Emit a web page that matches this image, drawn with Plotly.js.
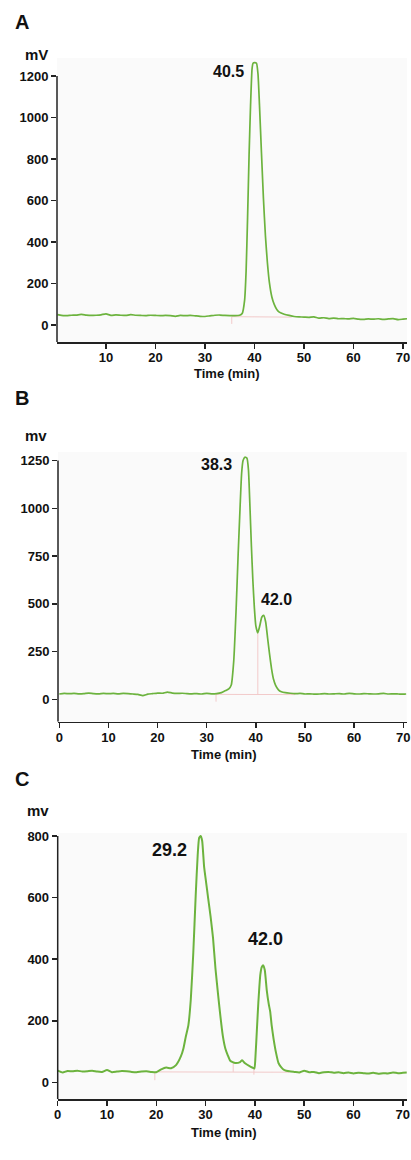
<!DOCTYPE html>
<html>
<head>
<meta charset="utf-8">
<script src="https://cdn.plot.ly/plotly-3.0.1.min.js"></script>
<style>html,body{margin:0;padding:0;background:#fff}#chart{width:411px;height:1160px}</style>
</head>
<body>
<div id="chart"></div>
<script>
// ---- Panel A ----
const tA = [0.2,1,2,3,4,5,6,7,8,9,10,11,12,13,14,15,16,17,18,19,20,21,22,23,24,25,26,27,28,29,30,31,32,33,34,35,36,37,37.5,38,38.3,38.6,38.9,39.2,39.5,39.7,40.0,40.4,40.7,41.0,41.4,41.8,42.2,42.6,43.0,43.5,44.0,44.5,45,46,47,48,49,50,51,52,53,54,55,56,57,58,59,60,61,62,63,64,65,66,67,68,69,70,70.8];
const vA = [50,46,45,47,48,51,48,46,47,49,54,46,49,47,46,50,47,46,45,47,46,45,46,45,42,46,45,46,44,42,41,44,47,48,46,45,45,47,55,120,260,520,820,1060,1235,1262,1265,1262,1210,1060,830,610,430,300,205,135,98,75,62,52,46,41,39,38,37,39,33,35,31,33,30,31,29,32,28,27,29,28,30,27,29,31,26,28,30];
const baseAx = [35.4,35.4,47.5];
const baseAy = [5,40,38];

// ---- Panel B ----
const tB = [0,1,2,3,4,5,6,7,8,9,10,11,12,13,14,15,16,17,18,19,20,21,22,23,24,25,26,27,28,29,30,31,32,33,34,34.5,35,35.5,36,36.4,36.8,37.1,37.4,37.8,38.2,38.5,38.8,39.1,39.4,39.7,40.0,40.4,40.8,41.2,41.6,42.0,42.4,42.8,43.2,43.6,44.0,44.6,45.2,46,47,48,49,50,51,52,53,54,55,56,57,58,59,60,61,62,63,64,65,66,67,68,69,70,70.6];
const vB = [28,31,30,31,29,30,33,30,29,31,30,31,29,31,30,28,26,20,27,30,33,32,38,33,31,32,30,29,30,28,31,29,30,35,48,55,75,200,480,760,1010,1180,1250,1268,1262,1200,1010,800,620,480,385,348,385,430,440,405,320,235,160,105,75,50,40,35,32,30,31,28,29,27,28,30,28,29,30,28,31,29,28,30,29,28,29,31,28,29,28,27,28];
const baseBx = [31.9,31.9,48];
const baseBy = [-12,26,25];
const dropBx = [40.4,40.4];
const dropBy = [26,346];

// ---- Panel C ----
const tC = [0,1,2,3,4,5,6,7,8,9,10,11,12,13,14,15,16,17,18,19,20,21,22,23,24,25,25.5,26,26.5,27,27.5,28,28.4,28.7,29.0,29.3,29.7,30.1,30.5,31,31.5,32,32.5,33,33.5,34,34.5,35,36,37,37.4,38,39,39.5,39.9,40.1,40.4,40.7,41.1,41.4,41.7,42.0,42.4,42.8,43.1,43.4,43.8,44.3,44.8,45.4,46,47,48,49,50,51,52,53,54,55,56,57,58,59,60,61,62,63,64,65,66,67,68,69,70,70.8];
const vC = [38,32,37,36,38,35,36,38,35,34,40,33,35,37,36,34,33,35,36,34,33,42,48,46,56,85,110,150,185,270,420,610,740,795,800,785,700,650,600,540,470,370,290,215,150,110,88,70,63,66,72,62,52,48,45,80,170,260,350,375,380,365,300,255,230,185,140,95,62,48,40,36,34,32,38,33,34,30,33,34,31,33,30,32,29,31,30,29,31,28,30,29,32,30,31,32];
const baseCx = [19.7,19.7,47];
const baseCy = [7,34,33];
const tickCx1 = [35.6,35.6];
const tickCy1 = [34,62];
const tickCx2 = [39.8,39.8];
const tickCy2 = [25,45];

const ticksA = [10,20,30,40,50,60,70];
const ticksBC = [0,10,20,30,40,50,60,70];
const yTicksA = [0,200,400,600,800,1000,1200];
const yTicksB = [0,250,500,750,1000,1250];
const yTicksC = [0,200,400,600,800];

const W = 411, H = 1160;
const GREEN = '#6cb33e';
const PINK = '#f2caca';
const FONT = 'Liberation Sans, Arial, sans-serif';

function line(x, y, xa, ya, color, width) {
  return {x: x, y: y, xaxis: xa, yaxis: ya, type: 'scatter', mode: 'lines',
    line: {color: color, width: width, shape: 'spline', smoothing: 0.5},
    hoverinfo: 'skip', showlegend: false};
}
function straight(x, y, xa, ya) {
  return {x: x, y: y, xaxis: xa, yaxis: ya, type: 'scatter', mode: 'lines',
    line: {color: PINK, width: 1}, hoverinfo: 'skip', showlegend: false};
}

const data = [
  straight(baseAx, baseAy, 'x', 'y'),
  line(tA, vA, 'x', 'y', GREEN, 1.7),
  straight(baseBx, baseBy, 'x2', 'y2'),
  straight(dropBx, dropBy, 'x2', 'y2'),
  line(tB, vB, 'x2', 'y2', GREEN, 1.7),
  straight(baseCx, baseCy, 'x3', 'y3'),
  straight(tickCx1, tickCy1, 'x3', 'y3'),
  straight(tickCx2, tickCy2, 'x3', 'y3'),
  line(tC, vC, 'x3', 'y3', GREEN, 2)
];

const tickfont = {family: FONT, size: 13, color: '#111', weight: 'bold'};
function xax(domainPx, range, anchor, tickvals) {
  return {domain: [domainPx[0]/W, domainPx[1]/W], range: range, anchor: anchor,
    tickvals: tickvals, ticktext: tickvals.map(String), ticks: 'outside', ticklen: 5, tickwidth: 1.5,
    tickcolor: '#222', showline: true, linecolor: '#222', linewidth: 1.5, showgrid: false,
    zeroline: false, tickfont: tickfont, fixedrange: true, ticklabelstandoff: -2};
}
function yax(domainPx, range, anchor, tickvals) {
  return {domain: [1 - domainPx[1]/H, 1 - domainPx[0]/H], range: range, anchor: anchor,
    tickvals: tickvals, ticktext: tickvals.map(String), ticks: 'outside', ticklen: 5, tickwidth: 1.5,
    tickcolor: '#222', showline: false, showgrid: false, zeroline: false, tickfont: tickfont,
    fixedrange: true};
}

function ann(text, px, py, size) {
  return {text: text, x: px/W, y: 1 - py/H, xref: 'paper', yref: 'paper',
    xanchor: 'center', yanchor: 'middle', showarrow: false,
    font: {family: FONT, size: size, color: '#111', weight: 'bold'}};
}

const layout = {
  width: W, height: H,
  margin: {l: 0, r: 0, t: 0, b: 0},
  paper_bgcolor: '#ffffff',
  plot_bgcolor: '#fafafa',
  showlegend: false,
  xaxis: xax([57, 407], [0.1, 70.8], 'y', ticksA),
  yaxis: yax([58, 342], [-82, 1287], 'x', yTicksA),
  xaxis2: xax([58, 406.7], [-0.26, 70.7], 'y2', ticksBC),
  yaxis2: yax([452, 721.7], [-117, 1295], 'x2', yTicksB),
  xaxis3: xax([57.7, 407], [0, 70.85], 'y3', ticksBC),
  yaxis3: yax([833, 1099.3], [-55, 810], 'x3', yTicksC),
  shapes: [
    {type: 'line', xref: 'x domain', yref: 'y', x0: 0, x1: 0, y0: -82, y1: 1200, line: {color: '#222', width: 1.5}},
    {type: 'line', xref: 'x2 domain', yref: 'y2', x0: 0, x1: 0, y0: -117, y1: 1250, line: {color: '#222', width: 1.5}},
    {type: 'line', xref: 'x3 domain', yref: 'y3', x0: 0, x1: 0, y0: -55, y1: 800, line: {color: '#222', width: 1.5}}
  ],
  annotations: [
    ann('A', 22, 22, 20),
    ann('B', 22, 397.5, 20),
    ann('C', 22, 778.5, 20),
    ann('mV', 36, 54, 15),
    ann('mv', 35.5, 436, 15),
    ann('mv', 38, 810, 15),
    ann('Time (min)', 226.7, 373.5, 13),
    ann('Time (min)', 224, 754.5, 13),
    ann('Time (min)', 224, 1132, 13),
    ann('40.5', 228.3, 71, 16),
    ann('38.3', 216.7, 464.3, 16),
    ann('42.0', 276.7, 599.5, 16),
    ann('29.2', 169, 850, 18),
    ann('42.0', 265.8, 939.3, 18)
  ]
};

Plotly.newPlot('chart', data, layout, {displayModeBar: false, staticPlot: true});
</script>
</body>
</html>
